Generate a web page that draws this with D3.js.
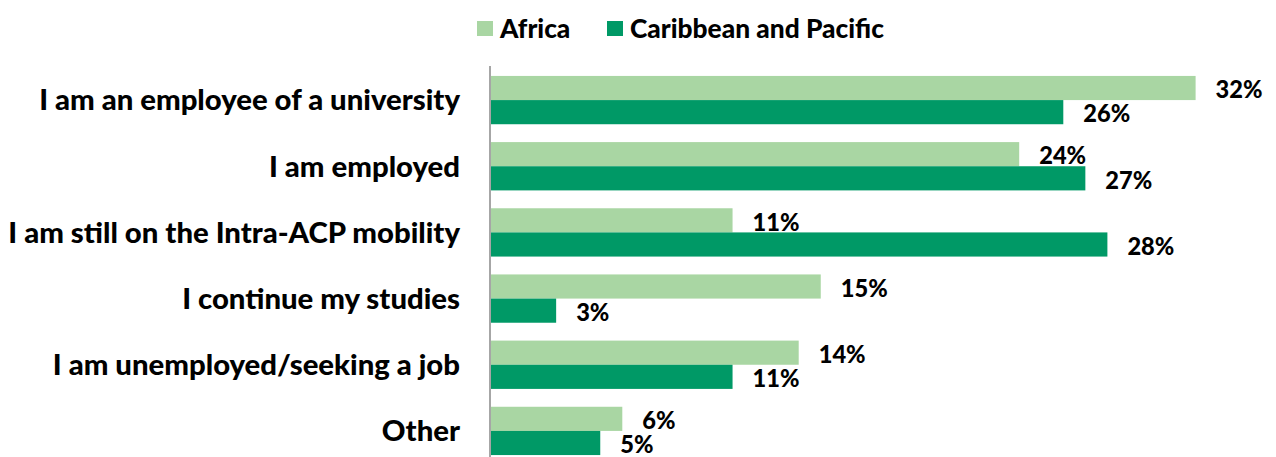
<!DOCTYPE html>
<html>
<head>
<meta charset="utf-8">
<script src="https://cdn.jsdelivr.net/npm/d3@7"></script>
<style>
  html, body { margin: 0; padding: 0; background: #fff; }
  svg { display: block; }
  text { font-family: Lato, "Open Sans", sans-serif; font-weight: 900; fill: #000; }
</style>
</head>
<body>
<svg id="chart" width="1276" height="457"></svg>
<script>
// Current situation of former mobility participants, by region (%)
const categories = [
  "I am an employee of a university",
  "I am employed",
  "I am still on the Intra-ACP mobility",
  "I continue my studies",
  "I am unemployed/seeking a job",
  "Other"
];
const seriesNames = ["Africa", "Caribbean and Pacific"];
const africa = [32, 24, 11, 15, 14, 6];
const caribbeanPacific = [26, 27, 28, 3, 11, 5];
const colors = ["#a9d6a3", "#009966"];

const series = [africa, caribbeanPacific];

const svg = d3.select("#chart");
const W = 1276, H = 457;
const axisX = 490;

const x = d3.scaleLinear().domain([0, 35]).range([axisX, axisX + 35 * 22.05]);
const y = d3.scaleBand().domain(categories).range([67, 464]).paddingInner(0.27).paddingOuter(0.135);
const sub = d3.scaleBand().domain(d3.range(seriesNames.length)).range([0, y.bandwidth()]);

// fit a font size so that a sample string spans a given width
function fitSize(sample, width, base) {
  const t = svg.append("text").attr("font-size", base).text(sample);
  const w = t.node().getComputedTextLength();
  t.remove();
  return base * width / w;
}
const catSize = fitSize(categories[2], 452, 24);
const valSize = fitSize("32%", 47, 20);
const legSize = fitSize(seriesNames[1], 254, 20);

// bars
const groups = svg.append("g").selectAll("g")
  .data(categories)
  .join("g")
  .attr("transform", d => `translate(0,${y(d)})`);

series.forEach((vals, si) => {
  groups.append("rect")
    .attr("x", axisX)
    .attr("y", sub(si))
    .attr("width", (d, i) => x(vals[i]) - axisX)
    .attr("height", sub.bandwidth())
    .attr("fill", colors[si]);
  groups.append("text")
    .attr("x", (d, i) => x(vals[i]) + 20)
    .attr("y", sub(si) + sub.bandwidth() / 2 + 2)
    .attr("dy", "0.35em")
    .attr("font-size", valSize)
    .text((d, i) => vals[i] + "%");
});

// category axis
const yAxis = svg.append("g")
  .attr("transform", `translate(${axisX},0)`)
  .call(d3.axisLeft(y).tickSize(0).tickPadding(30));
yAxis.select(".domain").remove();
yAxis.selectAll("text")
  .attr("font-size", catSize)
  .attr("font-family", null)
  .attr("dy", "0.35em");
svg.append("line")
  .attr("x1", axisX).attr("x2", axisX)
  .attr("y1", 66).attr("y2", H)
  .attr("stroke", "#a6a6a6").attr("stroke-width", 2);

// legend
const legendX = [477, 607];
const legend = svg.append("g").selectAll("g")
  .data(seriesNames)
  .join("g")
  .attr("transform", (d, i) => `translate(${legendX[i]},21)`);
legend.append("rect").attr("width", 16).attr("height", 15).attr("fill", (d, i) => colors[i]);
legend.append("text")
  .attr("x", 23).attr("y", 8).attr("dy", "0.35em")
  .attr("font-size", legSize)
  .text(d => d);
</script>
</body>
</html>
